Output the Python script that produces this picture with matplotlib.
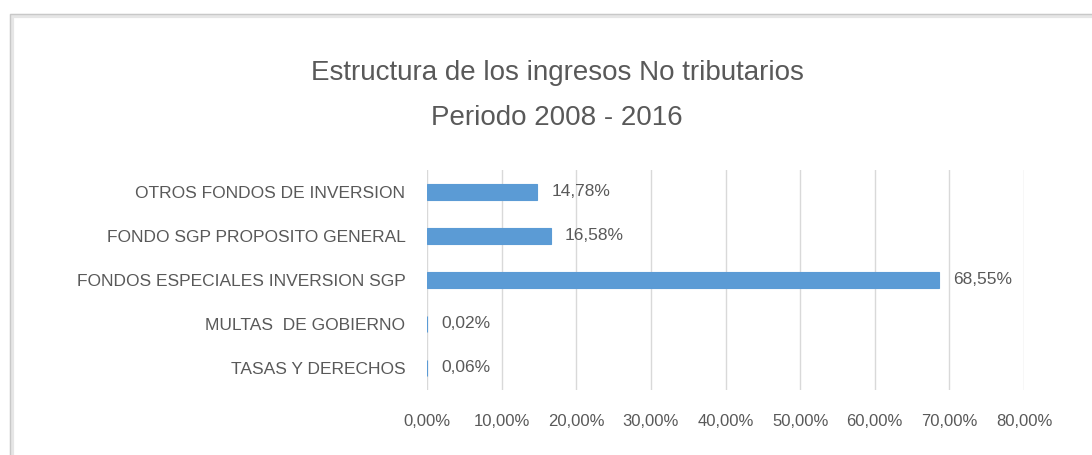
import matplotlib.pyplot as plt
from matplotlib.patches import Rectangle

plt.rcParams['font.family'] = ['Liberation Sans', 'DejaVu Sans']

categorias = ['TASAS Y DERECHOS', 'MULTAS  DE GOBIERNO', 'FONDOS ESPECIALES INVERSION SGP',
              'FONDO SGP PROPOSITO GENERAL', 'OTROS FONDOS DE INVERSION']
porcentajes = [0.06, 0.02, 68.55, 16.58, 14.78]
ticks_x = [0, 10, 20, 30, 40, 50, 60, 70, 80]

gris = '#595959'
azul = '#5B9BD5'

fig = plt.figure(figsize=(10.92, 4.55), dpi=100)
W, H = 1092, 455

# marco del grafico (borde con sombra)
fig.patches.append(Rectangle((12/W, -0.1), 1.2, 1 - 16/H + 0.1, transform=fig.transFigure,
                             facecolor='none', edgecolor='#e6e6e6', linewidth=3, zorder=0))
fig.patches.append(Rectangle((10/W, -0.1), 1.2, 1 - 14/H + 0.1, transform=fig.transFigure,
                             facecolor='none', edgecolor='#c8c8c8', linewidth=1, zorder=1))

ax = fig.add_axes([427/W, 1 - 390/H, (1024 - 427)/W, 220/H])
y = range(len(categorias))
ax.barh(y, porcentajes, height=0.36, color=azul, edgecolor=azul, linewidth=0.8, zorder=3)
ax.set_ylim(-0.5, 4.5)
ax.set_xlim(0, 80)
ax.set_yticks(list(y))
ax.set_yticklabels(categorias, fontsize=12.5, color=gris)
ax.set_xticks(ticks_x)
ax.set_xticklabels([f'{t:.2f}%'.replace('.', ',') for t in ticks_x], fontsize=12, color=gris)
ax.tick_params(axis='both', length=0)
ax.tick_params(axis='y', pad=15.5)
ax.tick_params(axis='x', pad=17)
ax.grid(axis='x', color='#d9d9d9', linewidth=1, zorder=0)
for s in ax.spines.values():
    s.set_visible(False)

for yi, v in zip(y, porcentajes):
    ax.text(v + 1.9, yi, f'{v:.2f}%'.replace('.', ','), va='center', ha='left',
            fontsize=12.5, color=gris)

fig.text(557/W, 1 - 73/H, 'Estructura de los ingresos No tributarios', ha='center', va='center',
         fontsize=20, color=gris)
fig.text(557/W, 1 - 118/H, 'Periodo 2008 - 2016', ha='center', va='center',
         fontsize=20, color=gris)

fig.savefig('out.png', dpi=100)
